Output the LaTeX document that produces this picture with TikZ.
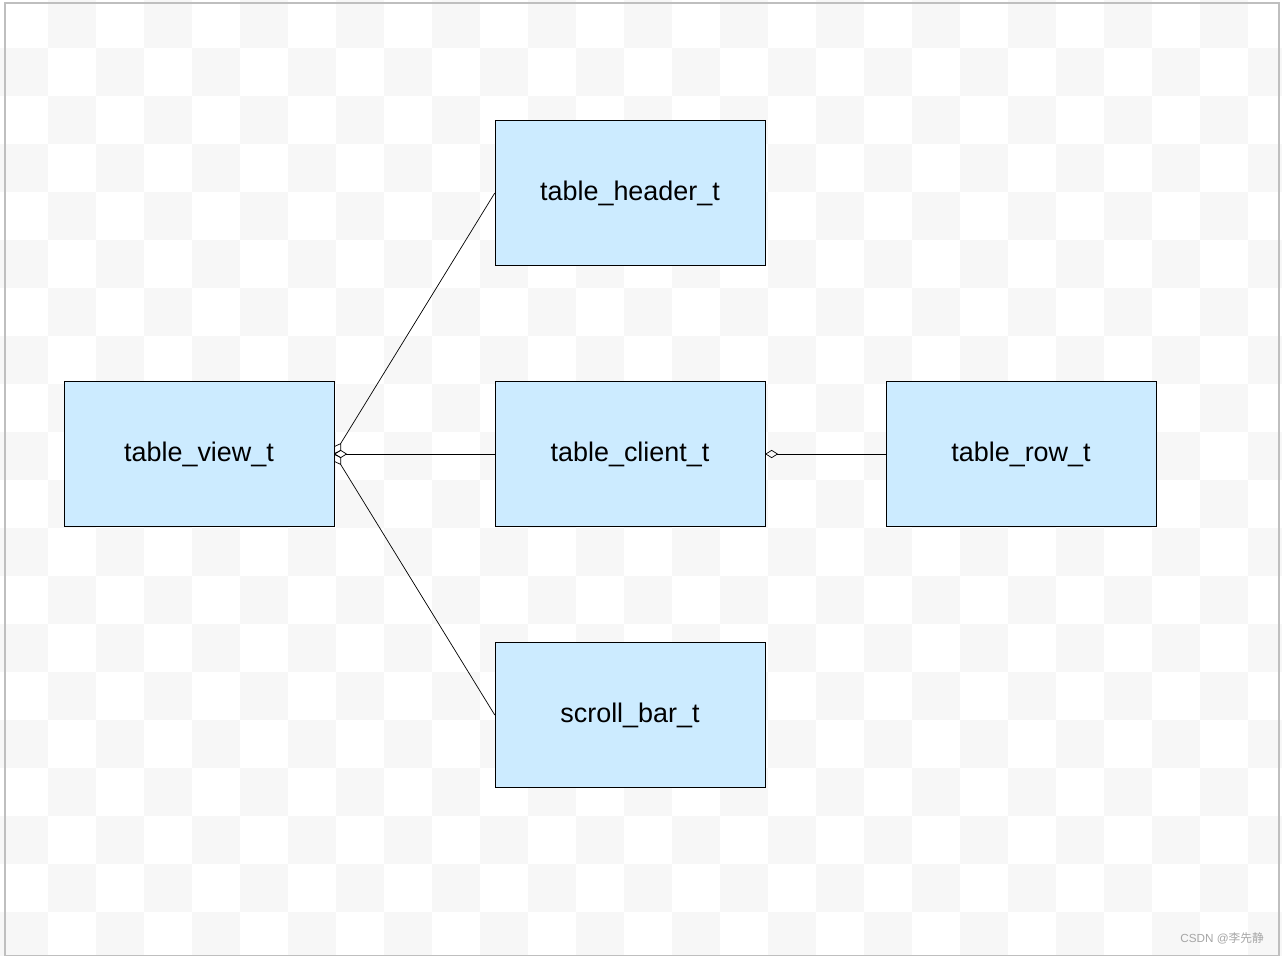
\documentclass[tikz,border=0pt]{standalone}
\usepackage{fontspec}
\setmainfont{Liberation Sans}
\newfontfamily\cjk{Noto Sans CJK SC}
\usetikzlibrary{arrows.meta}
\tikzset{
  cls/.style={draw=black, fill=blue!40!cyan!20!white, minimum width=270*0.03cm, minimum height=145*0.03cm,
    inner sep=0pt, font=\fontsize{23}{27}\selectfont},
  agg/.style={{Diamond[open,length=11pt,width=7pt]}-, semithick}
}
\definecolor{chk}{HTML}{F7F7F7}
\begin{document}
\begin{tikzpicture}[x=0.03cm,y=-0.03cm]
  \useasboundingbox (0,0) rectangle (1282,956);
  \fill [white] (0,0) rectangle (1282,956);
  % checkered background
  \foreach \i in {0,...,26}{
    \foreach \j in {0,...,19}{
      \pgfmathtruncatemacro\odd{mod(\i+\j,2)}
      \ifnum\odd=1
        \fill [chk] (\i*48,\j*48) rectangle ++(48,48);
      \fi
    }
  }
  \draw [gray!50, line width=1pt] (5,3) rectangle (1279,956);

  \node [cls] (view) at (199,454) {table\_view\_t};
  \node [cls] (header) at (630,193) {table\_header\_t};
  \node [cls] (client) at (630,454) {table\_client\_t};
  \node [cls] (row) at (1021,454) {table\_row\_t};
  \node [cls] (scroll) at (630,715) {scroll\_bar\_t};

  \draw [agg] (view.east) -- (header.west);
  \draw [agg] (view.east) -- (client.west);
  \draw [agg] (view.east) -- (scroll.west);
  \draw [agg] (client.east) -- (row.west);

  \node [anchor=east, text=gray!70, font=\fontsize{10}{12}\selectfont] (mark) at (1268,938) {CSDN @{\cjk 李先静}};
\end{tikzpicture}
\end{document}
